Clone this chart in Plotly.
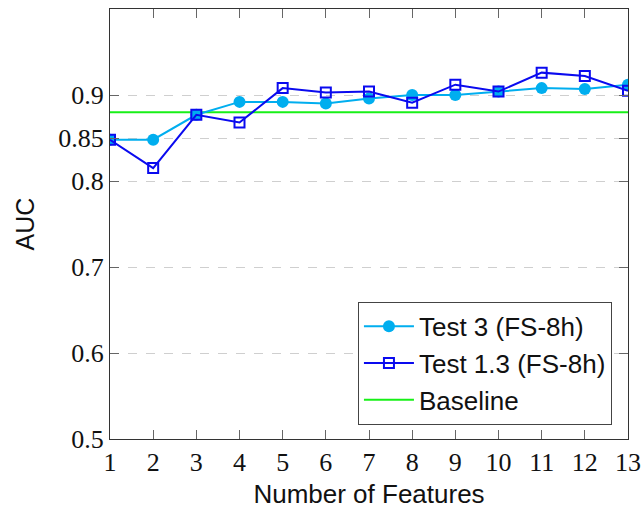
import plotly.graph_objects as go

features = list(range(1, 14))
test3 = [0.848, 0.848, 0.877, 0.892, 0.892, 0.890, 0.896, 0.900, 0.900, 0.904, 0.908, 0.907, 0.912]
test13 = [0.848, 0.815, 0.877, 0.868, 0.908, 0.903, 0.904, 0.891, 0.912, 0.904, 0.926, 0.922, 0.905]
baseline = 0.88
y_ticks = [0.5, 0.6, 0.7, 0.8, 0.85, 0.9]
y_tick_labels = ["0.5", "0.6", "0.7", "0.8", "0.85", "0.9"]

CYAN = "#00aeef"
BLUE = "#0a0aef"
GREEN = "#17f017"

fig = go.Figure()
fig.add_trace(go.Scatter(
    x=[features[0], features[-1]], y=[baseline, baseline], mode="lines",
    name="Baseline", line=dict(color=GREEN, width=2), legendrank=3))
fig.add_trace(go.Scatter(
    x=features, y=test3, mode="lines+markers", name="Test 3 (FS-8h)",
    line=dict(color=CYAN, width=2),
    marker=dict(symbol="circle", size=12, color=CYAN), legendrank=1))
fig.add_trace(go.Scatter(
    x=features, y=test13, mode="lines+markers", name="Test 1.3 (FS-8h)",
    line=dict(color=BLUE, width=2),
    marker=dict(symbol="square-open", size=10, color=BLUE, line=dict(width=2)),
    legendrank=2))

axis_common = dict(
    showline=True, linecolor="#333", linewidth=1.3, mirror="allticks",
    ticks="inside", ticklen=9, tickcolor="#666", tickwidth=1,
    tickfont=dict(family="Liberation Serif", size=26, color="#111"),
    zeroline=False, automargin=False, ticklabeloverflow="allow")

fig.update_xaxes(
    range=[1, 13], tickvals=features, ticktext=[str(f) for f in features],
    showgrid=False,
    title=dict(text="Number of Features", font=dict(family="Liberation Sans", size=26, color="#111"),
               standoff=8),
    **axis_common)
fig.update_yaxes(
    range=[0.5, 1.0], tickvals=y_ticks, ticktext=y_tick_labels,
    showgrid=True, gridcolor="#cfcfcf", griddash="dash", gridwidth=1.3,
    title=dict(text="AUC", font=dict(family="Liberation Sans", size=25, color="#111"),
               standoff=16),
    **axis_common)

fig.update_layout(
    width=641, height=512,
    margin=dict(l=110, r=13, t=9, b=73),
    plot_bgcolor="white", paper_bgcolor="white",
    showlegend=True,
    legend=dict(
        x=0.969, y=0.033, xanchor="right", yanchor="bottom",
        bordercolor="#444", borderwidth=1, bgcolor="white",
        font=dict(family="Liberation Sans", size=26, color="#111"),
        tracegroupgap=0, itemwidth=50),
)

fig.write_html("out.html")
